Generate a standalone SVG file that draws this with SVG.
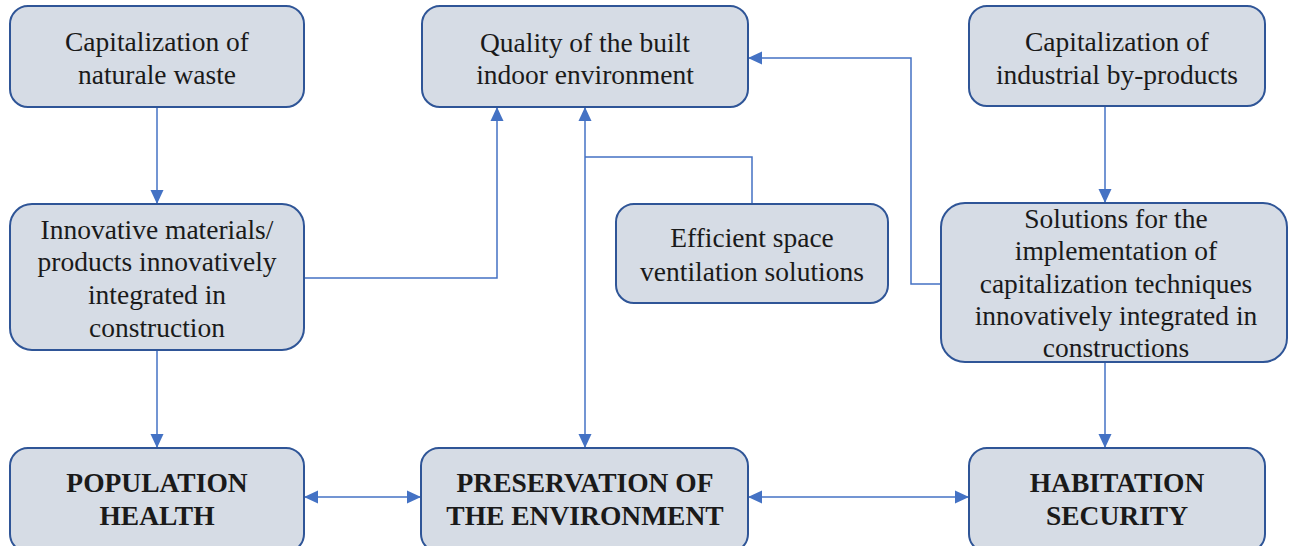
<svg xmlns="http://www.w3.org/2000/svg" width="1289" height="546" viewBox="0 0 1289 546">
<style>
.box{fill:#d6dce5;stroke:#2f5597;stroke-width:2}
.c{fill:none;stroke:#4472c4;stroke-width:1.5}
</style>
<defs>
<marker id="ah" viewBox="0 0 14 14" refX="14" refY="7" markerWidth="14" markerHeight="14" markerUnits="userSpaceOnUse" orient="auto-start-reverse">
<path d="M0,0.5 L14,7 L0,13.5 Z" fill="#4472c4"/>
</marker>
</defs>
<rect width="1289" height="546" fill="#fff"/>
<g id="connectors">
<path class="c" d="M157,107 V204" marker-end="url(#ah)"/>
<path class="c" d="M304,278 H497 V107" marker-end="url(#ah)"/>
<path class="c" d="M157,350 V448" marker-end="url(#ah)"/>
<path class="c" d="M585,448 V107" marker-start="url(#ah)" marker-end="url(#ah)"/>
<path class="c" d="M752,204 V157 H585"/>
<path class="c" d="M941,284 H911 V58 H748" marker-end="url(#ah)"/>
<path class="c" d="M1105,106 V203" marker-end="url(#ah)"/>
<path class="c" d="M1105,362 V448" marker-end="url(#ah)"/>
<path class="c" d="M304,497 H421" marker-start="url(#ah)" marker-end="url(#ah)"/>
<path class="c" d="M748,497 H969" marker-start="url(#ah)" marker-end="url(#ah)"/>
</g>
<g font-family="Liberation Serif, Times New Roman, serif" font-size="27.5" fill="#1a1a1a" text-anchor="middle">
<g id="n-natural">
<rect class="box" x="10" y="6" width="294" height="101" rx="18"/>
<text x="157" y="51">Capitalization  of</text>
<text x="157" y="84">naturale waste</text>
</g>
<g id="n-quality">
<rect class="box" x="422" y="6" width="326" height="101" rx="18"/>
<text x="585" y="52">Quality of the built</text>
<text x="585" y="84">indoor environment</text>
</g>
<g id="n-industrial">
<rect class="box" x="969" y="6" width="296" height="100" rx="18"/>
<text x="1117" y="51">Capitalization  of</text>
<text x="1117" y="84">industrial by-products</text>
</g>
<g id="n-innovative">
<rect class="box" x="10" y="204" width="294" height="146" rx="22"/>
<text x="157" y="239">Innovative materials/</text>
<text x="157" y="271">products innovatively</text>
<text x="157" y="304">integrated in</text>
<text x="157" y="337">construction</text>
</g>
<g id="n-ventilation">
<rect class="box" x="616" y="204" width="272" height="99" rx="18"/>
<text x="752" y="247">Efficient space</text>
<text x="752" y="281">ventilation solutions</text>
</g>
<g id="n-solutions">
<rect class="box" x="941" y="203" width="346" height="159" rx="24"/>
<text x="1116" y="228">Solutions for the</text>
<text x="1116" y="260">implementation of</text>
<text x="1116" y="293">capitalization techniques</text>
<text x="1116" y="325">innovatively integrated in</text>
<text x="1116" y="357">constructions</text>
</g>
<g font-weight="bold">
<g id="n-health">
<rect class="box" x="10" y="448" width="294" height="104" rx="18"/>
<text x="157" y="492">POPULATION</text>
<text x="157" y="525">HEALTH</text>
</g>
<g id="n-environment">
<rect class="box" x="421" y="448" width="327" height="104" rx="18"/>
<text x="585" y="492">PRESERVATION OF</text>
<text x="585" y="525">THE ENVIRONMENT</text>
</g>
<g id="n-security">
<rect class="box" x="969" y="448" width="296" height="104" rx="18"/>
<text x="1117" y="492">HABITATION</text>
<text x="1117" y="525">SECURITY</text>
</g>
</g>
</g>
</svg>
